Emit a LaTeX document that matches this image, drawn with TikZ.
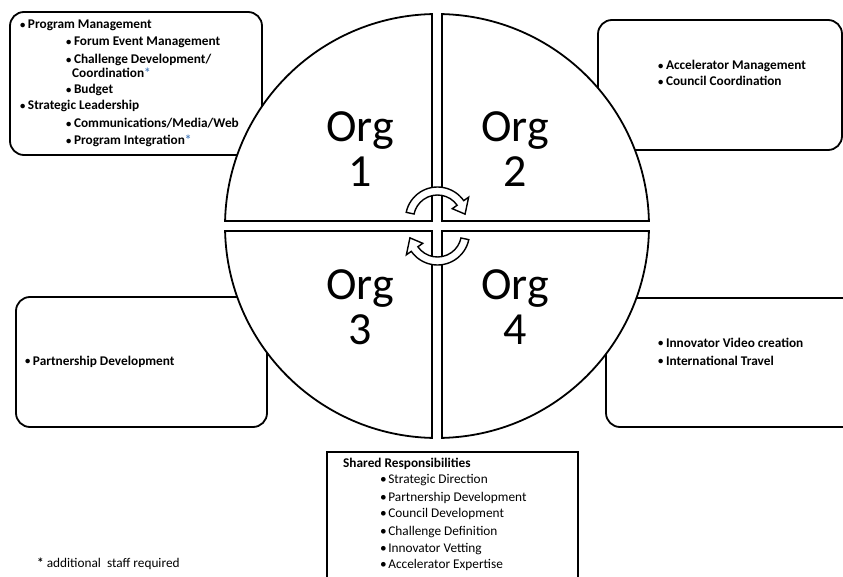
\documentclass[tikz,border=0pt]{standalone}
\usepackage{fontspec}
\setmainfont{Carlito}
\usetikzlibrary{calc}
\definecolor{starblue}{RGB}{79,129,189}
\newcommand{\bul}{\raisebox{0.1ex}{\scalebox{0.8}{\textbullet}}\hspace{2.5pt}}
\newcommand{\sbul}{\textbullet\hspace{1.5pt}}
\newcommand{\bstar}{\textcolor{starblue}{*}}

\tikzset{
  box/.style={draw, line width=1.8pt, rounded corners=14pt, fill=white},
  sharpbox/.style={draw, line width=1.8pt, fill=white},
  sector/.style={draw, line width=1.8pt, fill=white, line join=miter},
  band/.style={draw, line width=1.4pt, fill=white, line join=miter},
  item/.style={anchor=base west, inner sep=0pt, font=\fontsize{13.3}{15}\selectfont\bfseries},
  plain/.style={anchor=base west, inner sep=0pt, font=\fontsize{13.3}{15}\selectfont},
  org/.style={align=center, inner sep=0pt, font=\fontsize{46}{45}\selectfont}
}

\begin{document}
\begin{tikzpicture}[x=1pt, y=1pt]
  \useasboundingbox (0,0) rectangle (843,-577);
  \clip (0,0) rectangle (843,-577);

  % responsibility boxes
  \draw[box] (10,-12) rectangle (262,-155);
  \draw[box] (598,-20) rectangle (842,-150);
  \draw[box] (16,-297) rectangle (267,-427);
  \draw[box] (606,-298) rectangle (870,-427);
  \draw[sharpbox] (327,-452) rectangle (578,-600);

  % four quarters of the circle, separated by a cross-shaped gap
  \coordinate (O) at (437,-226);
  \def\rr{212}
  \def\da{1.351}
  \draw[sector] (432,-221) -- ([shift={(O)}]180-\da:\rr)
    arc[start angle=180-\da, end angle=90+\da, radius=\rr] -- cycle;
  \draw[sector] (442,-221) -- ([shift={(O)}]90-\da:\rr)
    arc[start angle=90-\da, end angle=\da, radius=\rr] -- cycle;
  \draw[sector] (442,-231) -- ([shift={(O)}]-\da:\rr)
    arc[start angle=-\da, end angle=-90+\da, radius=\rr] -- cycle;
  \draw[sector] (432,-231) -- ([shift={(O)}]-90-\da:\rr)
    arc[start angle=-90-\da, end angle=-180+\da, radius=\rr] -- cycle;

  % circular arrows in the middle
  \coordinate (T) at (437.5,-219);
  \coordinate (B) at (437.5,-233);
  \draw[band] ([shift={(T)}]168:32) arc[start angle=168, end angle=35, radius=32]
    -- ([shift={(T)}]35:38) -- ([shift={(T)}]10:28) -- ([shift={(T)}]35:18)
    -- ([shift={(T)}]35:24) arc[start angle=35, end angle=168, radius=24] -- cycle;
  \draw[band] ([shift={(B)}]-12:32) arc[start angle=-12, end angle=-145, radius=32]
    -- ([shift={(B)}]-145:38) -- ([shift={(B)}]-170:28) -- ([shift={(B)}]-145:18)
    -- ([shift={(B)}]-145:24) arc[start angle=-145, end angle=-12, radius=24] -- cycle;

  % organisation labels
  \node[org] (org1) at (360,-149) {Org\\1};
  \node[org] (org2) at (515,-149) {Org\\2};
  \node[org] (org3) at (360,-307) {Org\\3};
  \node[org] (org4) at (515,-307) {Org\\4};

  % Org 1 responsibilities
  \node[item] (a1) at (20,-29)  {\bul Program Management};
  \node[item] (a2) at (66,-46)  {\bul Forum Event Management};
  \node[item] (a3) at (66,-64)  {\bul Challenge Development/};
  \node[item] (a4) at (72,-78)  {Coordination\bstar};
  \node[item] (a5) at (66,-94)  {\bul Budget};
  \node[item] (a6) at (20,-110) {\bul Strategic Leadership};
  \node[item] (a7) at (66,-128) {\bul Communications/Media/Web};
  \node[item] (a8) at (66,-145) {\bul Program Integration\bstar};

  % Org 2 responsibilities
  \node[item] (b1) at (658,-70) {\bul Accelerator Management};
  \node[item] (b2) at (658,-86) {\bul Council Coordination};

  % Org 3 responsibilities
  \node[item] (c1) at (25,-365) {\bul Partnership Development};

  % Org 4 responsibilities
  \node[item] (d1) at (658,-347) {\bul Innovator Video creation};
  \node[item] (d2) at (658,-365) {\bul International Travel};

  % shared responsibilities
  \node[item]  (s0) at (343,-467) {Shared Responsibilities};
  \node[plain] (s1) at (380,-483) {\sbul Strategic Direction};
  \node[plain] (s2) at (380,-501) {\sbul Partnership Development};
  \node[plain] (s3) at (380,-517) {\sbul Council Development};
  \node[plain] (s4) at (380,-535) {\sbul Challenge Definition};
  \node[plain] (s5) at (380,-552) {\sbul Innovator Vetting};
  \node[plain] (s6) at (380,-568) {\sbul Accelerator Expertise};

  % footnote
  \node[plain] (fn) at (37,-567) {\textbf{*}\hspace{3pt}additional\ \ staff required};
\end{tikzpicture}
\end{document}
